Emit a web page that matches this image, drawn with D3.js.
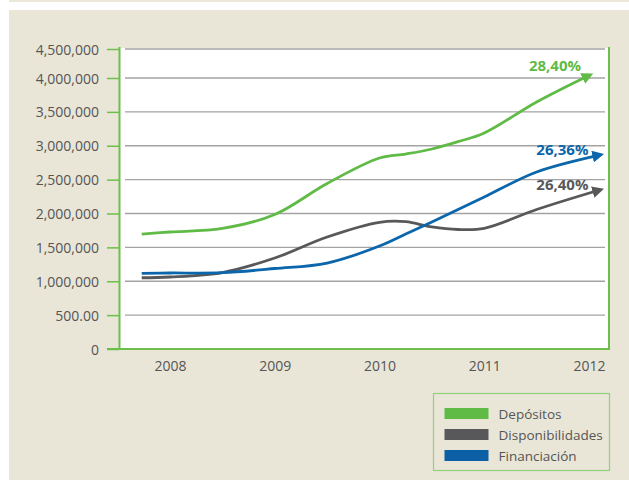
<!DOCTYPE html>
<html>
<head>
<meta charset="utf-8">
<script src="https://cdn.jsdelivr.net/npm/d3@7"></script>
<style>
  html, body { margin: 0; padding: 0; background: #ffffff; }
  svg { display: block; }
  text { font-family: "Open Sans", "Noto Sans", sans-serif; }
</style>
</head>
<body>
<svg id="chart" width="629" height="480"></svg>
<script>
// ---------- data ----------
const categories = ["2008", "2009", "2010", "2011", "2012"];
const yTickValues = [0, 500000, 1000000, 1500000, 2000000, 2500000, 3000000, 3500000, 4000000, 4500000];
const yTickLabels = ["0", "500.00", "1,000,000", "1,500,000", "2,000,000", "2,500,000", "3,000,000", "3,500,000", "4,000,000", "4,500,000"];
const seriesNames = ["Depósitos", "Disponibilidades", "Financiación"];
const seriesColors = ["#5fbb46", "#58585a", "#0b66ab"];
const seriesLabels = ["28,40%", "26,40%", "26,36%"];
// sample positions along the time axis (fractional years); the last value of each series sits at its arrow tip
const sampleYears = [2007.73, 2008, 2008.5, 2009, 2009.5, 2010, 2010.25, 2010.5, 2010.75, 2011, 2011.5];
const tipYears = [2012.0, 2012.1, 2012.1];
const depositos        = [1697000, 1727000, 1779000, 1985000, 2443000, 2819000, 2878000, 2952000, 3060000, 3188000, 3646000, 4044000];
const disponibilidades = [1052000, 1063000, 1129000, 1343000, 1653000, 1870000, 1879000, 1801000, 1764000, 1781000, 2059000, 2347000];
const financiacion     = [1117000, 1122000, 1126000, 1188000, 1269000, 1520000, 1697000, 1875000, 2059000, 2244000, 2613000, 2863000];
const seriesValues = [depositos, disponibilidades, financiacion];

// ---------- layout ----------
const W = 629, H = 480;
const plot = { left: 120, right: 608, top: 48, bottom: 349 };

const svg = d3.select("#chart");

// background panels
svg.append("rect").attr("x", 9).attr("y", 0).attr("width", W - 9).attr("height", 2).attr("fill", "#ebe8da");
svg.append("rect").attr("x", 9).attr("y", 10).attr("width", W - 9).attr("height", H - 10).attr("fill", "#e9e6d8");

// plot area
svg.append("rect").attr("x", plot.left).attr("y", plot.top)
  .attr("width", plot.right - plot.left).attr("height", plot.bottom - plot.top)
  .attr("fill", "#ffffff");

// scales
const x = d3.scaleLinear().domain([2008, 2012]).range([170, 589]);
const y = d3.scaleLinear().domain([0, 4000000, 4500000]).range([plot.bottom, 78, plot.top + 1]);

// gridlines
svg.append("g").selectAll("line").data(yTickValues.filter(v => v > 0)).join("line")
  .attr("x1", plot.left + 5).attr("x2", plot.right - 3)
  .attr("y1", d => y(d)).attr("y2", d => y(d))
  .attr("stroke", "#a3a3a3").attr("stroke-width", 1.4);

// y axis
const yAxis = d3.axisLeft(y).tickValues(yTickValues)
  .tickFormat((d, i) => yTickLabels[i]).tickSize(13).tickPadding(8);
const gy = svg.append("g").attr("transform", `translate(${plot.left},0)`).call(yAxis);
gy.select(".domain").remove();
gy.selectAll(".tick line").attr("stroke", "#6cc04a").attr("stroke-width", 1.5).attr("x2", -13).attr("x1", -1);
gy.selectAll(".tick text").attr("fill", "#555555").attr("font-size", 14)
  .attr("font-family", "'Open Sans', sans-serif").attr("dy", "0.36em");

// frame lines
svg.append("line").attr("x1", plot.left - 0.5).attr("x2", plot.left - 0.5)
  .attr("y1", plot.top - 1).attr("y2", plot.bottom + 1).attr("stroke", "#6cc04a").attr("stroke-width", 2);
svg.append("line").attr("x1", plot.right + 1).attr("x2", plot.right + 1)
  .attr("y1", plot.top - 1).attr("y2", plot.bottom + 1).attr("stroke", "#6cc04a").attr("stroke-width", 2);
svg.append("line").attr("x1", plot.left - 13).attr("x2", plot.right + 2)
  .attr("y1", plot.bottom).attr("y2", plot.bottom).attr("stroke", "#6cc04a").attr("stroke-width", 2);

// x axis labels
const xAxis = d3.axisBottom(x).tickValues(categories.map(Number))
  .tickFormat((d, i) => categories[i]).tickSize(0).tickPadding(12);
const gx = svg.append("g").attr("transform", `translate(0,${plot.bottom})`).call(xAxis);
gx.select(".domain").remove();
gx.selectAll(".tick text").attr("fill", "#555555").attr("font-size", 14)
  .attr("font-family", "'Open Sans', sans-serif");

// arrow markers
const defs = svg.append("defs");
seriesColors.forEach((c, i) => {
  defs.append("marker").attr("id", "arrow" + i)
    .attr("viewBox", "0 0 10 10").attr("refX", 6).attr("refY", 5)
    .attr("markerWidth", 4.2).attr("markerHeight", 4.2).attr("orient", "auto")
    .attr("markerUnits", "strokeWidth")
    .append("path").attr("d", "M0,0 L10,5 L0,10 Z").attr("fill", c);
});

// lines
const line = d3.line().x(d => x(d[0])).y(d => y(d[1])).curve(d3.curveCatmullRom.alpha(0.5));
seriesValues.forEach((vals, i) => {
  const pts = vals.map((v, j) => [j < sampleYears.length ? sampleYears[j] : tipYears[i], v]);
  svg.append("path").datum(pts).attr("d", line)
    .attr("fill", "none").attr("stroke", seriesColors[i]).attr("stroke-width", 2.8)
    .attr("stroke-linecap", "butt")
    .attr("marker-end", `url(#arrow${i})`);
});

// end labels
seriesValues.forEach((vals, i) => {
  const v = vals[vals.length - 1];
  svg.append("text")
    .attr("x", x(tipYears[i]) - (i === 0 ? 8 : 11))
    .attr("y", y(v) - (i === 0 ? 4 : 0))
    .attr("text-anchor", "end")
    .attr("font-size", 15).attr("font-weight", "bold")
    .attr("fill", seriesColors[i])
    .text(seriesLabels[i]);
});

// legend
const lg = svg.append("g").attr("transform", "translate(433.5,393.5)");
lg.append("rect").attr("width", 176).attr("height", 77)
  .attr("fill", "none").attr("stroke", "#8fd27a").attr("stroke-width", 1.2);
const legendColors = ["#5fbb46", "#58585a", "#0b5fa5"];
seriesNames.forEach((n, i) => {
  lg.append("rect").attr("x", 11).attr("y", 14.5 + i * 21).attr("width", 44).attr("height", 11)
    .attr("fill", legendColors[i]);
  lg.append("text").attr("x", 65).attr("y", 25.5 + i * 21)
    .attr("font-size", 13.5).attr("fill", "#555555").text(n);
});
</script>
</body>
</html>
